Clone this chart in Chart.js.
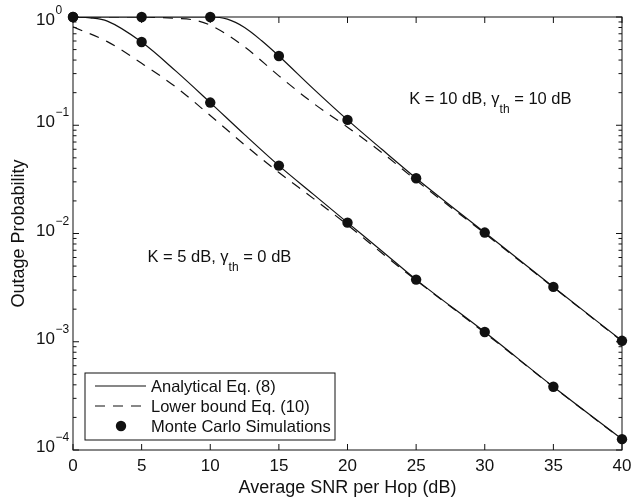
<!DOCTYPE html>
<html>
<head>
<meta charset="utf-8">
<script src="https://cdn.jsdelivr.net/npm/chart.js@4"></script>
<style>
  body { margin: 0; background: #fff; }
</style>
</head>
<body>
<canvas id="outageChart" width="631" height="500"></canvas>
<script>
// values (outage probability vs SNR in dB)
const snrA = [0, 1.25, 2.5, 5, 7.5, 10, 12.5, 15, 17.5, 20, 22.5, 25, 30, 35, 40];
const analyticalA = [1.0, 0.982, 0.916, 0.587, 0.316, 0.162, 0.082, 0.0424, 0.0231, 0.0126, 0.0069, 0.00375, 0.00123, 0.000384, 0.000126];

const snrBoundA = [0, 2.5, 5, 7.5, 10, 12.5, 15, 17.5, 20, 22.5, 25, 30, 35, 40];
const boundA = [0.81, 0.592, 0.373, 0.225, 0.123, 0.066, 0.0366, 0.0211, 0.0120, 0.0066, 0.0037, 0.00121, 0.000382, 0.000125];

const snrB = [0, 5, 10, 11.25, 12.5, 13.75, 15, 17.5, 20, 22.5, 25, 30, 35, 40];
const analyticalB = [1, 1, 1, 0.955, 0.80, 0.603, 0.436, 0.218, 0.112, 0.060, 0.0324, 0.0102, 0.00321, 0.00102];

const snrBoundB = [0, 5, 7.5, 8.75, 10, 12.5, 15, 17.5, 20, 22.5, 25, 30, 35, 40];
const boundB = [1, 1, 0.97, 0.94, 0.84, 0.53, 0.286, 0.16, 0.096, 0.056, 0.031, 0.0100, 0.00318, 0.00101];

const snrSim = [0, 5, 10, 15, 20, 25, 30, 35, 40];
const simA = [1.0, 0.587, 0.162, 0.0424, 0.0126, 0.00375, 0.00123, 0.000384, 0.000126];
const simB = [1.0, 1.0, 1.0, 0.436, 0.112, 0.0324, 0.0102, 0.00321, 0.00102];

const xTicks = [0, 5, 10, 15, 20, 25, 30, 35, 40];
const yExponents = [0, -1, -2, -3, -4];

const legendLabels = ['Analytical Eq. (8)', 'Lower bound Eq. (10)', 'Monte Carlo Simulations'];
const noteA = ['K = 5 dB, γ', 'th', ' = 0 dB'];
const noteB = ['K = 10 dB, γ', 'th', ' = 10 dB'];

const ink = '#111';
const font = '"Liberation Sans", Arial, Helvetica, sans-serif';
const dash = [10, 8];

function pts(xs, ys) {
    return xs.map((x, i) => ({ x: x, y: ys[i] }));
}

function curve(xs, ys, dashed) {
    return {
        data: pts(xs, ys),
        borderColor: ink,
        borderWidth: 1.2,
        borderDash: dashed ? dash : [],
        pointRadius: 0,
        cubicInterpolationMode: 'monotone',
        fill: false
    };
}

function markers(xs, ys) {
    return {
        data: pts(xs, ys),
        showLine: false,
        pointRadius: 5.2,
        pointBackgroundColor: ink,
        pointBorderWidth: 0,
        clip: false
    };
}

function drawNote(ctx, x, y, parts) {
    ctx.font = '16.5px ' + font;
    ctx.textAlign = 'left';
    ctx.textBaseline = 'alphabetic';
    ctx.fillText(parts[0], x, y);
    let w = ctx.measureText(parts[0]).width;
    ctx.font = '12px ' + font;
    ctx.fillText(parts[1], x + w, y + 9);
    w += ctx.measureText(parts[1]).width;
    ctx.font = '16.5px ' + font;
    ctx.fillText(parts[2], x + w, y);
}

const decorations = {
    id: 'decorations',
    afterDatasetsDraw(chart) {
        const ctx = chart.ctx;
        const a = chart.chartArea;
        const xs = chart.scales.x;
        const ys = chart.scales.y;
        ctx.save();
        ctx.strokeStyle = ink;
        ctx.fillStyle = ink;
        ctx.lineWidth = 1;

        // box and inward ticks
        ctx.strokeRect(a.left, a.top, a.right - a.left, a.bottom - a.top);
        ctx.beginPath();
        xTicks.forEach(v => {
            const px = xs.getPixelForValue(v);
            ctx.moveTo(px, a.bottom); ctx.lineTo(px, a.bottom - 6);
            ctx.moveTo(px, a.top); ctx.lineTo(px, a.top + 6);
        });
        for (let e = -4; e <= 0; e++) {
            for (let m = 1; m <= 9; m++) {
                const v = m * Math.pow(10, e);
                if (v > 1) break;
                const py = ys.getPixelForValue(v);
                const len = m === 1 ? 6 : 3.5;
                ctx.moveTo(a.left, py); ctx.lineTo(a.left + len, py);
                ctx.moveTo(a.right, py); ctx.lineTo(a.right - len, py);
            }
        }
        ctx.stroke();

        // y tick labels 10^n
        yExponents.forEach(e => {
            const py = ys.getPixelForValue(Math.pow(10, e));
            const base = Math.max(py + 2, 25);
            ctx.font = '17px ' + font;
            ctx.textAlign = 'right';
            ctx.textBaseline = 'alphabetic';
            ctx.fillText('10', a.left - 18, base);
            ctx.font = '12px ' + font;
            ctx.textAlign = 'left';
            ctx.fillText(e === 0 ? '0' : '\u2212' + (-e), a.left - 17.5, base - 11);
        });

        // curve notes
        drawNote(ctx, xs.getPixelForValue(5.42), ys.getPixelForValue(0.00547), noteA);
        drawNote(ctx, xs.getPixelForValue(24.5), ys.getPixelForValue(0.157), noteB);

        // legend
        const lx = a.left + 12, ly = a.bottom - 77, lw = 250, lh = 67;
        ctx.fillStyle = '#fff';
        ctx.fillRect(lx, ly, lw, lh);
        ctx.strokeRect(lx, ly, lw, lh);
        ctx.fillStyle = ink;
        const rows = [ly + 13, ly + 33, ly + 53];
        ctx.lineWidth = 1.2;
        ctx.beginPath();
        ctx.moveTo(lx + 10, rows[0]); ctx.lineTo(lx + 61, rows[0]);
        ctx.stroke();
        ctx.setLineDash(dash);
        ctx.beginPath();
        ctx.moveTo(lx + 10, rows[1]); ctx.lineTo(lx + 61, rows[1]);
        ctx.stroke();
        ctx.setLineDash([]);
        ctx.beginPath();
        ctx.arc(lx + 36, rows[2], 5.2, 0, Math.PI * 2);
        ctx.fill();
        ctx.font = '16.5px ' + font;
        ctx.textAlign = 'left';
        ctx.textBaseline = 'middle';
        legendLabels.forEach((t, i) => ctx.fillText(t, lx + 66, rows[i] + 1));
        ctx.restore();
    }
};

const ctx = document.getElementById('outageChart').getContext('2d');
new Chart(ctx, {
    type: 'line',
    data: {
        datasets: [
            curve(snrA, analyticalA, false),
            curve(snrBoundA, boundA, true),
            curve(snrB, analyticalB, false),
            curve(snrBoundB, boundB, true),
            markers(snrSim, simA),
            markers(snrSim, simB)
        ]
    },
    options: {
        responsive: false,
        animation: false,
        devicePixelRatio: 1,
        events: [],
        layout: { padding: { top: 17, right: 9, left: 0, bottom: 0 } },
        plugins: { legend: { display: false }, tooltip: { enabled: false } },
        scales: {
            x: {
                type: 'linear',
                min: 0,
                max: 40,
                afterFit: function (scale) {
                    scale.height = 50;
                    scale.paddingRight = 0;
                    scale.paddingLeft = 0;
                },
                grid: { display: false, drawTicks: false },
                border: { display: false },
                ticks: {
                    stepSize: 5,
                    maxRotation: 0,
                    autoSkip: false,
                    padding: 6,
                    color: ink,
                    font: { family: font, size: 17 }
                },
                title: {
                    display: true,
                    text: 'Average SNR per Hop (dB)',
                    color: ink,
                    font: { family: font, size: 18 },
                    padding: { top: 0, bottom: 1 }
                }
            },
            y: {
                type: 'logarithmic',
                min: 1e-4,
                max: 1,
                afterFit: function (scale) { scale.width = 73; },
                grid: { display: false, drawTicks: false },
                border: { display: false },
                ticks: { display: false },
                title: {
                    display: true,
                    text: 'Outage Probability',
                    color: ink,
                    font: { family: font, size: 18 },
                    padding: { top: 8, bottom: 0 }
                }
            }
        }
    },
    plugins: [decorations]
});
</script>
</body>
</html>
